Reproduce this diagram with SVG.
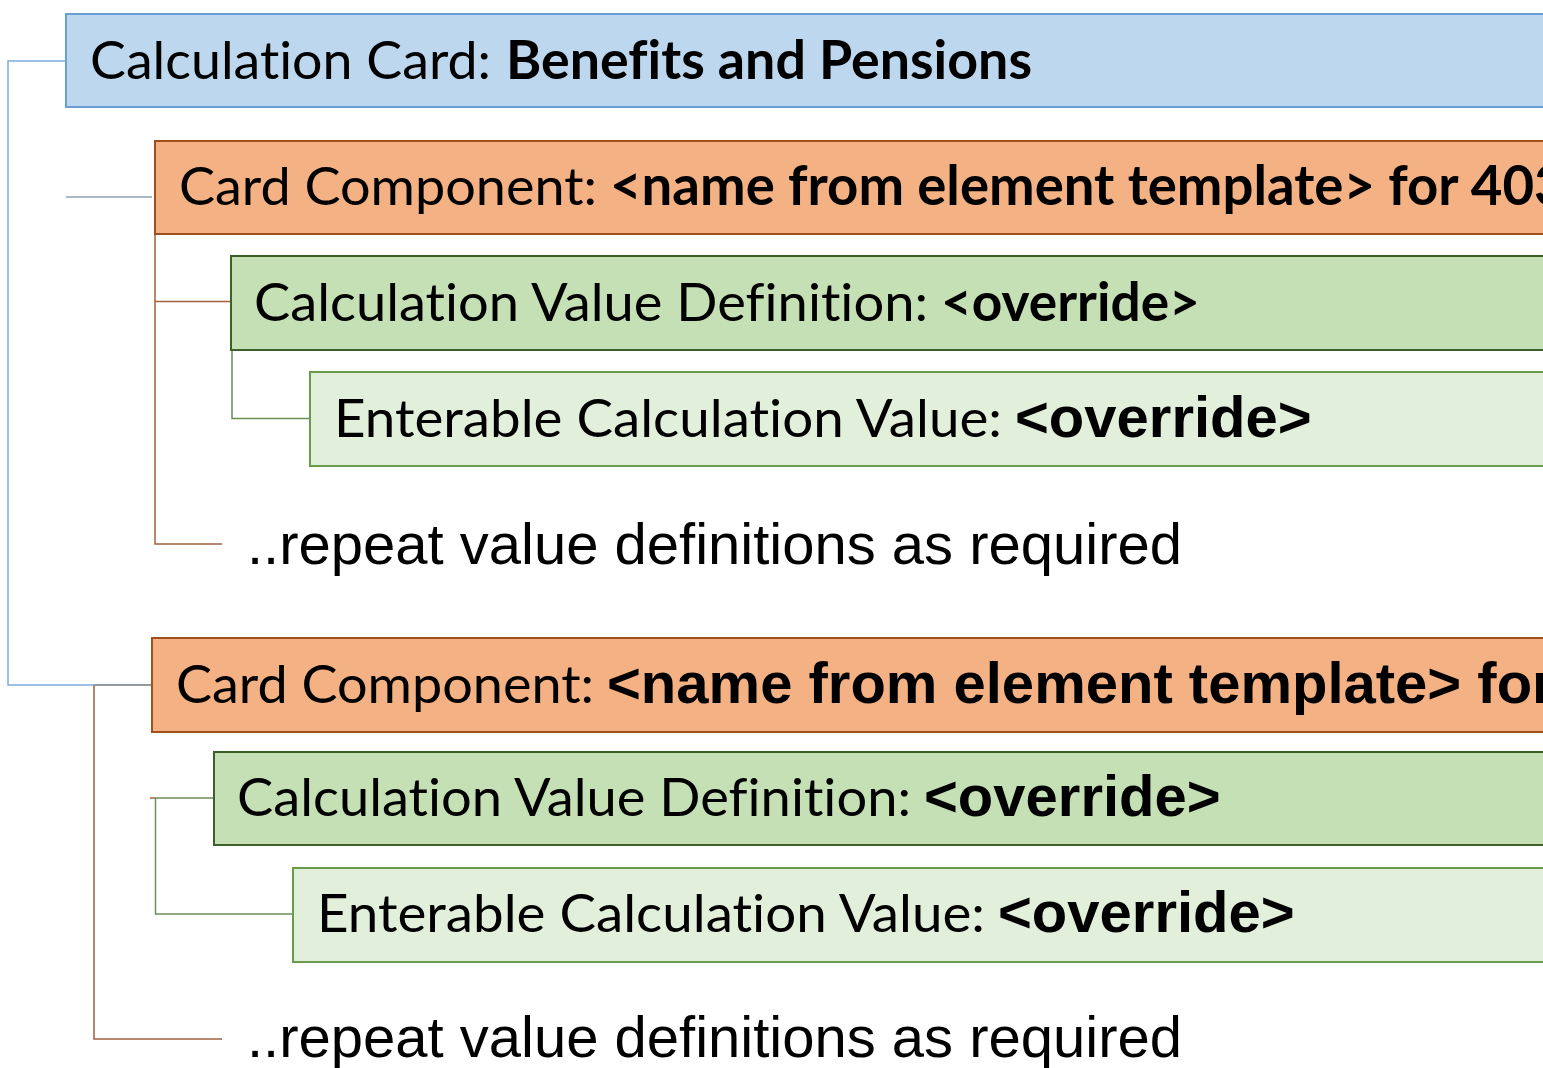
<svg xmlns="http://www.w3.org/2000/svg" width="1543" height="1068" viewBox="0 0 1543 1068">
<style>
.card{fill:#BDD7EE;stroke:#6A9FD6;stroke-width:2}
.comp{fill:#F4B183;stroke:#A0501E;stroke-width:2}
.cvd{fill:#C5E0B4;stroke:#3D5F28;stroke-width:2}
.ecv{fill:#E2EFDA;stroke:#6A9A4A;stroke-width:2}
text{font-variant-ligatures:none}
.t{font-family:Lato,"Open Sans",sans-serif;font-size:53px;fill:#000}
.b{font-family:Lato,"Open Sans",sans-serif;font-size:53px;font-weight:bold;fill:#000}
.a{font-family:"Liberation Sans",Arial,sans-serif;font-size:58px;font-weight:bold;fill:#000}
.r{font-family:"Liberation Sans",Arial,sans-serif;font-size:58px;fill:#000}
.cb{fill:none;stroke:#7FAADF;stroke-width:1.5}
.cg{fill:none;stroke:#8FA2B4;stroke-width:1.5}
.cr{fill:none;stroke:#A0613F;stroke-width:1.5}
.cn{fill:none;stroke:#6B8F57;stroke-width:1.5}
</style>
<g id="connectors">
<path class="cb" d="M66,61 H8 V685 H152"/>
<path class="cg" d="M66,197 H152"/>
<path class="cr" d="M155,234 V544 H222"/>
<path class="cr" d="M155,301.5 H231"/>
<path class="cn" d="M232,350 V418.5 H310"/>
<path class="cr" d="M94,685 V1039 H222"/>
<path class="cr" d="M94,685 H152" style="stroke:#8F8E86"/>
<path class="cr" d="M150,798 H156"/>
<path class="cn" d="M156,798 H214"/>
<path class="cn" d="M155.5,798 V914 H293"/>
</g>
<g id="calc-card">
<rect class="card" x="66" y="14" width="1500" height="93"/>
<text x="90" y="79" class="t" textLength="401" lengthAdjust="spacingAndGlyphs">Calculation Card:</text>
<text x="506" y="79" class="b" textLength="526" lengthAdjust="spacingAndGlyphs">Benefits and Pensions</text>
</g>
<g id="card-component-1">
<rect class="comp" x="155" y="141" width="1420" height="93"/>
<text x="179" y="205" class="t" textLength="418" lengthAdjust="spacingAndGlyphs">Card Component:</text>
<text x="610" y="205" class="b" style="font-size:54.5px">&lt;name from element template&gt; for 403(b)</text>
</g>
<g id="value-definition-1">
<rect class="cvd" x="231" y="256" width="1340" height="94"/>
<text x="254" y="321" class="t" textLength="674" lengthAdjust="spacingAndGlyphs">Calculation Value Definition:</text>
<text x="941" y="321" class="b" textLength="259" lengthAdjust="spacingAndGlyphs">&lt;override&gt;</text>
</g>
<g id="enterable-value-1">
<rect class="ecv" x="310" y="372" width="1260" height="94"/>
<text x="334" y="437" class="t" textLength="668" lengthAdjust="spacingAndGlyphs">Enterable Calculation Value:</text>
<text x="1015" y="437" class="a">&lt;override&gt;</text>
</g>
<g id="repeat-1">
<text x="247" y="564" class="r">..repeat value definitions as required</text>
</g>
<g id="card-component-2">
<rect class="comp" x="152" y="638" width="1420" height="94"/>
<text x="176" y="703" class="t" textLength="418" lengthAdjust="spacingAndGlyphs">Card Component:</text>
<text x="607" y="703" class="a">&lt;name from element template&gt; for</text>
</g>
<g id="value-definition-2">
<rect class="cvd" x="214" y="752" width="1360" height="93"/>
<text x="237" y="816" class="t" textLength="674" lengthAdjust="spacingAndGlyphs">Calculation Value Definition:</text>
<text x="924" y="816" class="a">&lt;override&gt;</text>
</g>
<g id="enterable-value-2">
<rect class="ecv" x="293" y="868" width="1280" height="94"/>
<text x="317" y="932" class="t" textLength="668" lengthAdjust="spacingAndGlyphs">Enterable Calculation Value:</text>
<text x="998" y="932" class="a">&lt;override&gt;</text>
</g>
<g id="repeat-2">
<text x="247" y="1057" class="r">..repeat value definitions as required</text>
</g>
</svg>
